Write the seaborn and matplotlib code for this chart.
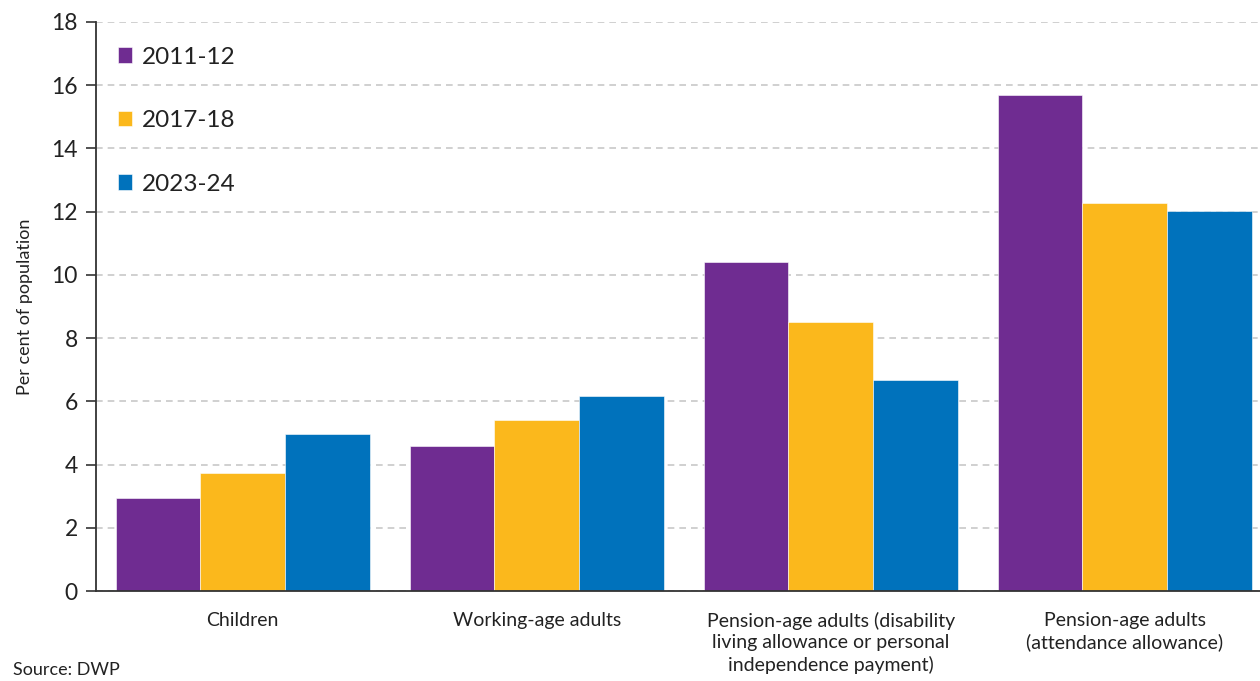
import pandas as pd
import seaborn as sns
import matplotlib.pyplot as plt

# Share of population receiving disability benefits, by group and year
groups = [
    "Children",
    "Working-age adults",
    "Pension-age adults (disability\nliving allowance or personal\nindependence payment)",
    "Pension-age adults\n(attendance allowance)",
]
years = ["2011-12", "2017-18", "2023-24"]
vals_2011 = [2.95, 4.6, 10.4, 15.7]
vals_2017 = [3.72, 5.42, 8.5, 12.28]
vals_2023 = [4.97, 6.17, 6.68, 12.03]
colours = ["#6F2C91", "#FBB81C", "#0072BC"]

rows = []
for year, vals in zip(years, [vals_2011, vals_2017, vals_2023]):
    for g, v in zip(groups, vals):
        rows.append({"Group": g, "Year": year, "Value": v})
df = pd.DataFrame(rows)

sns.set_style("white")
plt.rcParams["font.family"] = ["Lato", "DejaVu Sans"]

fig = plt.figure(figsize=(12.6, 6.81), dpi=100)
ax = fig.add_axes([0.076, 0.132, 0.924, 0.836])

sns.barplot(data=df, x="Group", y="Value", hue="Year", order=groups,
            hue_order=years, palette=colours, width=0.865, saturation=1,
            edgecolor="white", linewidth=0.4, ax=ax)

ax.set_xlim(-0.5, 3.46)
ax.set_ylim(0, 18)
ax.set_yticks(range(0, 19, 2))
ax.yaxis.grid(True, linestyle=(0, (4, 3)), color="#c8c8c8", linewidth=1.2)
ax.set_axisbelow(True)

# category labels centred, ticks between groups
ax.set_xticks(range(4))
ax.set_xticklabels(groups, fontsize=14, color="#222222", linespacing=1.3)
ax.set_xticks([0.5, 1.5, 2.5], minor=True)
ax.tick_params(axis="x", which="major", length=0, pad=15)
ax.tick_params(axis="x", which="minor", length=7, width=1.2, color="#333333")
ax.tick_params(axis="y", length=7, width=1.2, color="#333333", labelsize=16.5,
               labelcolor="#222222", pad=6, left=True)

for s in ["top", "right"]:
    ax.spines[s].set_visible(False)
for s in ["left", "bottom"]:
    ax.spines[s].set_color("#333333")
    ax.spines[s].set_linewidth(1.3)

ax.set_xlabel("")
ax.set_ylabel("Per cent of population", fontsize=13, color="#222222", labelpad=13)

leg = ax.legend(loc="upper left", bbox_to_anchor=(0.0, 0.995), frameon=False,
                fontsize=17.5, handlelength=0.6, handleheight=0.6,
                handletextpad=0.4, labelspacing=1.75)
for t in leg.get_texts():
    t.set_color("#222222")

fig.text(0.01, 0.004, "Source: DWP", fontsize=13, color="#222222", va="bottom")

fig.savefig("out.png", dpi=100)
